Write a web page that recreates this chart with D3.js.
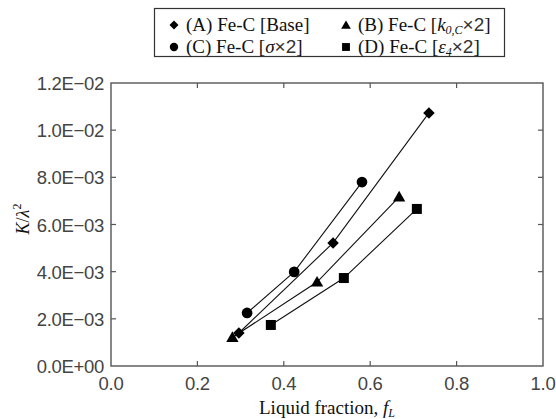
<!DOCTYPE html>
<html lang="en">
<head>
    <meta charset="UTF-8">
    <title>K / lambda^2 vs liquid fraction</title>
    <script src="https://cdn.jsdelivr.net/npm/d3@7"></script>
    <style>
        body { margin: 0; background: #fff; }
        .tick-label { font: 18.5px "Liberation Sans", sans-serif; fill: #444; letter-spacing: -0.3px; }
        .serif { font-family: "Liberation Serif", "Times New Roman", serif; fill: #111; }
    </style>
</head>
<body>
    <svg id="chart" width="556" height="419"></svg>
    <script>
        // data
        const xTicks = [0, 0.2, 0.4, 0.6, 0.8, 1.0]
        const yTicks = [0, 0.002, 0.004, 0.006, 0.008, 0.010, 0.012]
        const seriesNames = ["(A) Fe-C [Base]", "(B) Fe-C [k0,C×2]", "(C) Fe-C [σ×2]", "(D) Fe-C [ε4×2]"]
        const fracA = [0.296, 0.514, 0.736]
        const kA = [0.00140, 0.00522, 0.01073]
        const fracB = [0.281, 0.477, 0.667]
        const kB = [0.00121, 0.00356, 0.00717]
        const fracC = [0.315, 0.424, 0.581]
        const kC = [0.00225, 0.00399, 0.00780]
        const fracD = [0.370, 0.539, 0.708]
        const kD = [0.00174, 0.00373, 0.00666]

        const svg = d3.select("#chart")
        const x = d3.scaleLinear().domain([0, 1]).range([111, 543])
        const y = d3.scaleLinear().domain([0, 0.012]).range([366, 83])

        // 1.2E-02 style labels
        function sci(v) {
            if (v === 0) return "0.0E+00"
            const e = Math.floor(Math.log10(v) + 1e-9)
            const m = v / Math.pow(10, e)
            const sign = e < 0 ? "\u2212" : "+"
            return m.toFixed(1) + "E" + sign + String(Math.abs(e)).padStart(2, "0")
        }

        const frameColor = "#555"
        const tl = 5

        // frame
        svg.append("rect")
            .attr("x", x(0)).attr("y", y(0.012))
            .attr("width", x(1) - x(0)).attr("height", y(0) - y(0.012))
            .attr("fill", "none").attr("stroke", frameColor).attr("stroke-width", 1.4)

        // inward ticks on all four sides
        const ax = svg.append("g")
        xTicks.slice(1, -1).forEach(t => {
            ax.append("line").attr("x1", x(t)).attr("x2", x(t)).attr("y1", y(0)).attr("y2", y(0) - tl)
            ax.append("line").attr("x1", x(t)).attr("x2", x(t)).attr("y1", y(0.012)).attr("y2", y(0.012) + tl)
        })
        yTicks.slice(1, -1).forEach(t => {
            ax.append("line").attr("x1", x(0)).attr("x2", x(0) + tl).attr("y1", y(t)).attr("y2", y(t))
            ax.append("line").attr("x1", x(1)).attr("x2", x(1) - tl).attr("y1", y(t)).attr("y2", y(t))
        })
        ax.selectAll("line").attr("stroke", frameColor).attr("stroke-width", 1.2)

        svg.append("g").selectAll("text").data(xTicks).enter().append("text")
            .attr("class", "tick-label")
            .attr("x", d => x(d)).attr("y", 390)
            .attr("text-anchor", "middle")
            .text(d => d.toFixed(1))

        svg.append("g").selectAll("text").data(yTicks).enter().append("text")
            .attr("class", "tick-label")
            .attr("x", 104).attr("y", d => y(d) + 7)
            .attr("text-anchor", "end")
            .text(d => sci(d))

        // axis titles
        const xt = svg.append("text").attr("class", "serif")
            .attr("x", x(0.5)).attr("y", 414).attr("text-anchor", "middle")
            .style("font-size", "19px")
        xt.append("tspan").text("Liquid fraction,  ")
        xt.append("tspan").attr("font-style", "italic").text("f")
        xt.append("tspan").attr("font-style", "italic").attr("font-size", "12px").attr("dy", 3).text("L")

        const yt = svg.append("text").attr("class", "serif")
            .attr("transform", "translate(29,219) rotate(-90)")
            .attr("text-anchor", "middle")
            .style("font-size", "18px")
        yt.append("tspan").attr("font-style", "italic").text("K")
        yt.append("tspan").text("/")
        yt.append("tspan").attr("font-style", "italic").text("λ")
        yt.append("tspan").attr("font-size", "12px").attr("dy", -8).text("2")

        // series
        const series = [
            { name: seriesNames[0], xs: fracA, ys: kA, sym: "diamond" },
            { name: seriesNames[1], xs: fracB, ys: kB, sym: "triangle" },
            { name: seriesNames[2], xs: fracC, ys: kC, sym: "circle" },
            { name: seriesNames[3], xs: fracD, ys: kD, sym: "square" }
        ]

        function symPath(kind, scale) {
            if (kind === "diamond") return d3.symbol(d3.symbolSquare, 66 * scale)()
            if (kind === "triangle") return d3.symbol(d3.symbolTriangle, 66 * scale)()
            if (kind === "circle") return d3.symbol(d3.symbolCircle, 90 * scale)()
            return d3.symbol(d3.symbolSquare, 100 * scale)()
        }
        function symTransform(kind, px, py) {
            if (kind === "diamond") return `translate(${px},${py}) rotate(45)`
            if (kind === "triangle") return `translate(${px},${py + 1})`
            return `translate(${px},${py})`
        }

        const line = d3.line().x(d => x(d[0])).y(d => y(d[1]))
        series.forEach(s => {
            const pts = s.xs.map((v, i) => [v, s.ys[i]])
            svg.append("path").datum(pts).attr("d", line)
                .attr("fill", "none").attr("stroke", "#111").attr("stroke-width", 1.1)
        })
        series.forEach(s => {
            const pts = s.xs.map((v, i) => [v, s.ys[i]])
            svg.append("g").selectAll("path").data(pts).enter().append("path")
                .attr("d", symPath(s.sym, 1))
                .attr("transform", d => symTransform(s.sym, x(d[0]), y(d[1])))
                .attr("fill", "#000")
        })

        // legend
        const lg = svg.append("g")
        lg.append("rect").attr("x", 154.5).attr("y", 8.5).attr("width", 350).attr("height", 48)
            .attr("fill", "#fff").attr("stroke", "#333").attr("stroke-width", 1.2)
        const cols = [174, 346], rows = [25, 47]
        const place = [[0, 0], [1, 0], [0, 1], [1, 1]]
        series.forEach((s, i) => {
            const cx = cols[place[i][0]], cy = rows[place[i][1]]
            lg.append("path").attr("d", symPath(s.sym, 0.62))
                .attr("transform", symTransform(s.sym, cx, cy)).attr("fill", "#000")
            const t = lg.append("text").attr("class", "serif")
                .attr("x", cx + 12).attr("y", cy + 6).style("font-size", "19px")
            if (i === 0) {
                t.append("tspan").text(s.name)
            } else if (i === 1) {
                t.append("tspan").text("(B) Fe-C [")
                t.append("tspan").attr("font-style", "italic").text("k")
                t.append("tspan").attr("font-style", "italic").attr("font-size", "12px").attr("dy", 3).text("0,C")
                t.append("tspan").attr("dy", -3).attr("font-family", "Liberation Sans, sans-serif").attr("fill", "#333").text("×2")
                t.append("tspan").text("]")
            } else if (i === 2) {
                t.append("tspan").text("(C) Fe-C [")
                t.append("tspan").attr("font-style", "italic").text("σ")
                t.append("tspan").attr("font-family", "Liberation Sans, sans-serif").attr("fill", "#333").text("×2")
                t.append("tspan").text("]")
            } else {
                t.append("tspan").text("(D) Fe-C [")
                t.append("tspan").attr("font-style", "italic").text("ε")
                t.append("tspan").attr("font-style", "italic").attr("font-size", "12px").attr("dy", 3).text("4")
                t.append("tspan").attr("dy", -3).attr("font-family", "Liberation Sans, sans-serif").attr("fill", "#333").text("×2")
                t.append("tspan").text("]")
            }
        })
    </script>
</body>
</html>
